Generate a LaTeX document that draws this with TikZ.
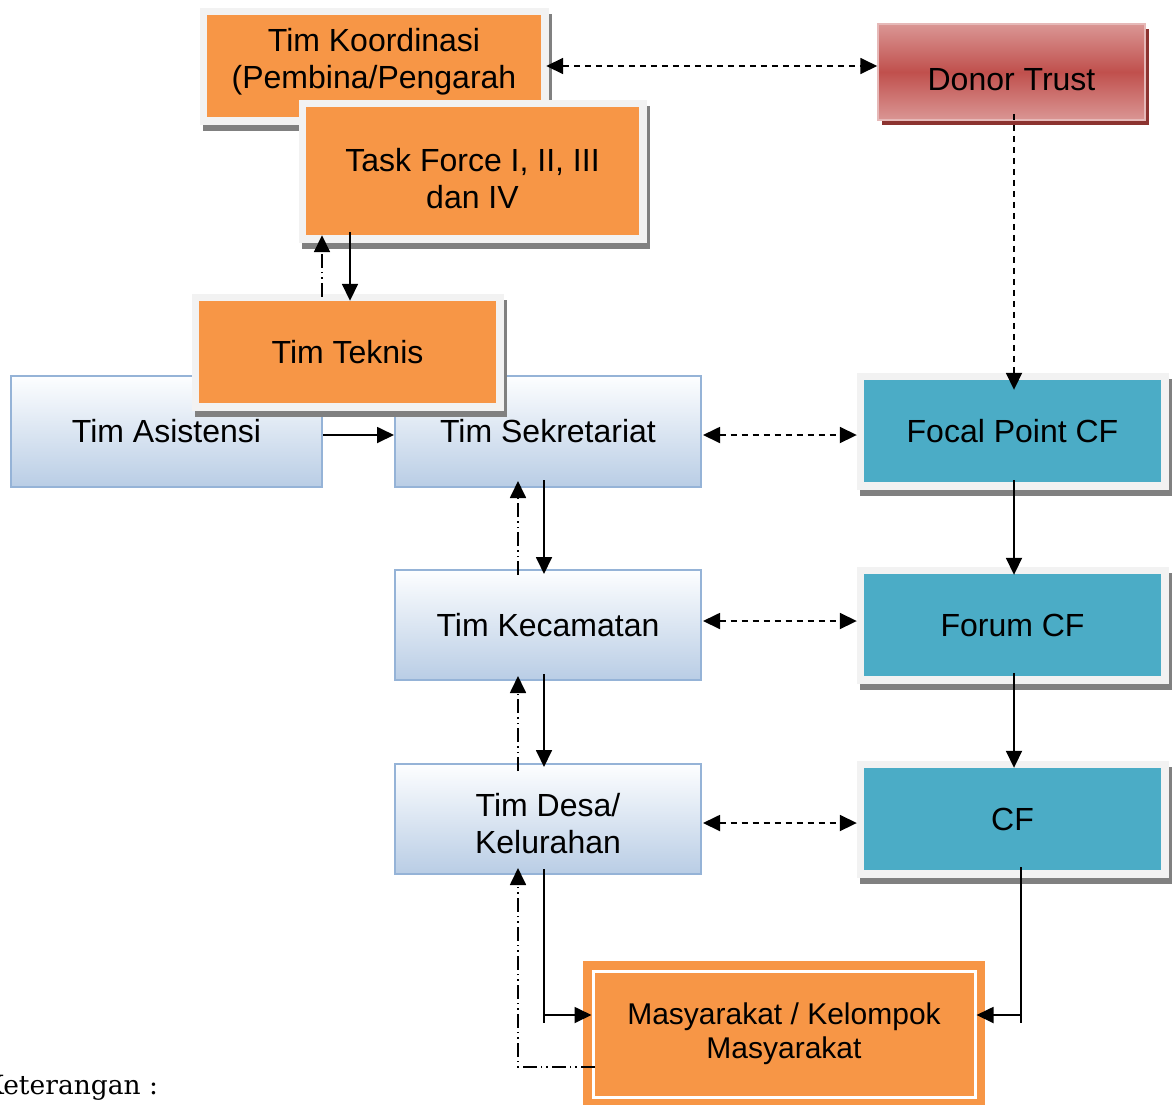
\documentclass[tikz,border=0pt]{standalone}
\usepackage{fontspec}
\setmainfont{Liberation Sans}
\newfontfamily\ketfont{DejaVu Serif}
\usetikzlibrary{arrows.meta,calc}
\definecolor{orng}{HTML}{F79646}
\definecolor{tealc}{HTML}{4BACC6}
\definecolor{framec}{HTML}{F2F2F2}
\definecolor{shadc}{HTML}{808080}
\definecolor{bluetop}{HTML}{FDFEFF}
\definecolor{bluebot}{HTML}{B9CDE5}
\definecolor{blueline}{HTML}{95B3D7}
\definecolor{redlight}{HTML}{DA9694}
\definecolor{redmid}{HTML}{C0504D}
\definecolor{redline}{HTML}{E6B9B8}
\definecolor{redshad}{HTML}{8C3330}
\begin{document}
\begin{tikzpicture}[x=1pt,y=-1pt,
  >={Triangle[length=17pt,width=16pt]},
  txt/.style={font=\fontsize{32}{37}\selectfont, align=center, inner sep=0pt},
  framed/.style={txt, fill=#1,
     preaction={draw=shadc, fill=shadc, line width=15pt, transform canvas={shift={(3pt,-6pt)}}},
     preaction={draw=framec, line width=15pt}},
  bluebox/.style={txt, top color=bluetop, bottom color=bluebot, draw=blueline, line width=2pt},
  dtbox/.style={txt, minimum width=267pt, minimum height=96pt,
     preaction={fill=redshad, transform canvas={shift={(4pt,-5pt)}}},
     top color=redlight, bottom color=redlight, middle color=redmid,
     draw=redline, line width=1.5pt},
  masybox/.style={font=\fontsize{30}{34}\selectfont, align=center, inner sep=0pt,
     fill=orng, draw=white, line width=3pt, minimum width=382pt, minimum height=126pt,
     preaction={draw=orng, line width=20pt}},
  sline/.style={line width=1.8pt},
  sconn/.style={line width=1.8pt, ->},
  dconn/.style={line width=1.8pt, dash pattern=on 6pt off 5pt, <->},
  dline/.style={line width=1.8pt, dash pattern=on 6pt off 5pt, ->},
  ddconn/.style={line width=1.8pt, dash pattern=on 14pt off 4pt on 1.5pt off 4pt on 1.5pt off 4pt, ->},
]
\useasboundingbox (0,0) rectangle (1173,1104);

% top orange boxes
\node[framed=orng, minimum width=334pt, minimum height=102pt] (tk) at (374,66) {};
\node[txt] (tkt) at ($(tk.center)+(0,-4.5)$) {Tim Koordinasi\\(Pembina/Pengarah};
\node[framed=orng, minimum width=333pt, minimum height=128pt] (tf) at (472.5,171) {};
\node[txt] (tft) at ($(tf.center)+(0,7.5)$) {Task Force I, II, III\\dan IV};

% blue boxes
\node[bluebox, minimum width=311pt, minimum height=111pt] (tas) at (166.5,431.5) {Tim Asistensi};
\node[bluebox, minimum width=306pt, minimum height=111pt] (tse) at (548,431.5) {Tim Sekretariat};
\node[framed=orng, minimum width=297pt, minimum height=102pt] (tt) at (347.5,352) {Tim Teknis};
\node[bluebox, minimum width=306pt, minimum height=110pt] (tke) at (548,625) {Tim Kecamatan};
\node[bluebox, minimum width=306pt, minimum height=110pt] (tde) at (548,819) {};
\node[txt] (tdet) at ($(tde.center)+(0,5)$) {Tim Desa/\\Kelurahan};

% right column
\node[dtbox] (dt) at (1011.5,72) {};
\node[txt] (dtt) at ($(dt.center)+(0,8)$) {Donor Trust};
\node[framed=tealc, minimum width=297pt, minimum height=102pt] (fp) at (1012.5,431) {Focal Point CF};
\node[framed=tealc, minimum width=297pt, minimum height=102pt] (fc) at (1012.5,625) {Forum CF};
\node[framed=tealc, minimum width=297pt, minimum height=102pt] (cf) at (1012.5,819) {CF};

% bottom
\node[masybox] (masy) at (784,1034) {Masyarakat / Kelompok\\Masyarakat};
\node[font=\ketfont\fontsize{26.5}{30}\selectfont, anchor=base west, inner sep=0pt] (ket) at (-16,1094) {Keterangan :};

% connectors
\draw[dconn] ($(tk.east)+(5,0)$) -- (dt.west |- tk.east);
\draw[dline] ($(dt.south)+(2.5,-7)$) -- ($(fp.north)+(1.5,10)$);

\draw[sconn] ($(tt.north |- tf.south)+(2.5,-3)$) -- ($(tt.north)+(2.5,0)$);
\draw[ddconn] ($(tt.north)+(-25.5,-4)$) -- ($(tt.north |- tf.south)+(-25.5,0)$);

\draw[sconn] ($(tas.east)+(0,3.5)$) -- ($(tse.west)+(0,3.5)$);
\draw[dconn] ($(tse.east)+(1,3.5)$) -- ($(fp.west |- tse.east)+(-7,3.5)$);

\draw[sconn] ($(tse.south)+(-4,-8)$) -- ($(tke.north)+(-4,5)$);
\draw[ddconn] ($(tke.north)+(-30,6)$) -- ($(tse.south)+(-30,-7)$);
\draw[sconn] ($(tke.south)+(-4,-7)$) -- ($(tde.north)+(-4,4)$);
\draw[ddconn] ($(tde.north)+(-30,8)$) -- ($(tke.south)+(-30,-5)$);

\draw[dconn] ($(tke.east)+(1,-4)$) -- ($(fc.west |- tke.east)+(-7,-4)$);
\draw[dconn] ($(tde.east)+(1,4)$) -- ($(cf.west |- tde.east)+(-7,4)$);

\draw[sconn] ($(fp.south)+(1.5,-2)$) -- ($(fc.north)+(1.5,1)$);
\draw[sconn] ($(fc.south)+(1.5,-3)$) -- ($(cf.north)+(1.5,0)$);

\coordinate (cfk) at ($(cf.south |- masy.east)+(8.5,-19)$);
\draw[sline] ($(cf.south)+(8.5,-3)$) -- ($(cfk)+(0,8)$);
\draw[sconn] (cfk) -- (masy.east |- cfk);

\coordinate (dek) at ($(tde.south |- masy.west)+(-4,-19)$);
\draw[sline] ($(tde.south)+(-4,-6)$) -- ($(dek)+(0,8)$);
\draw[sconn] (dek) -- (masy.west |- dek);

\draw[ddconn] ($(masy.west)+(3,33)$) -| ($(tde.south)+(-30,-7)$);
\end{tikzpicture}
\end{document}
